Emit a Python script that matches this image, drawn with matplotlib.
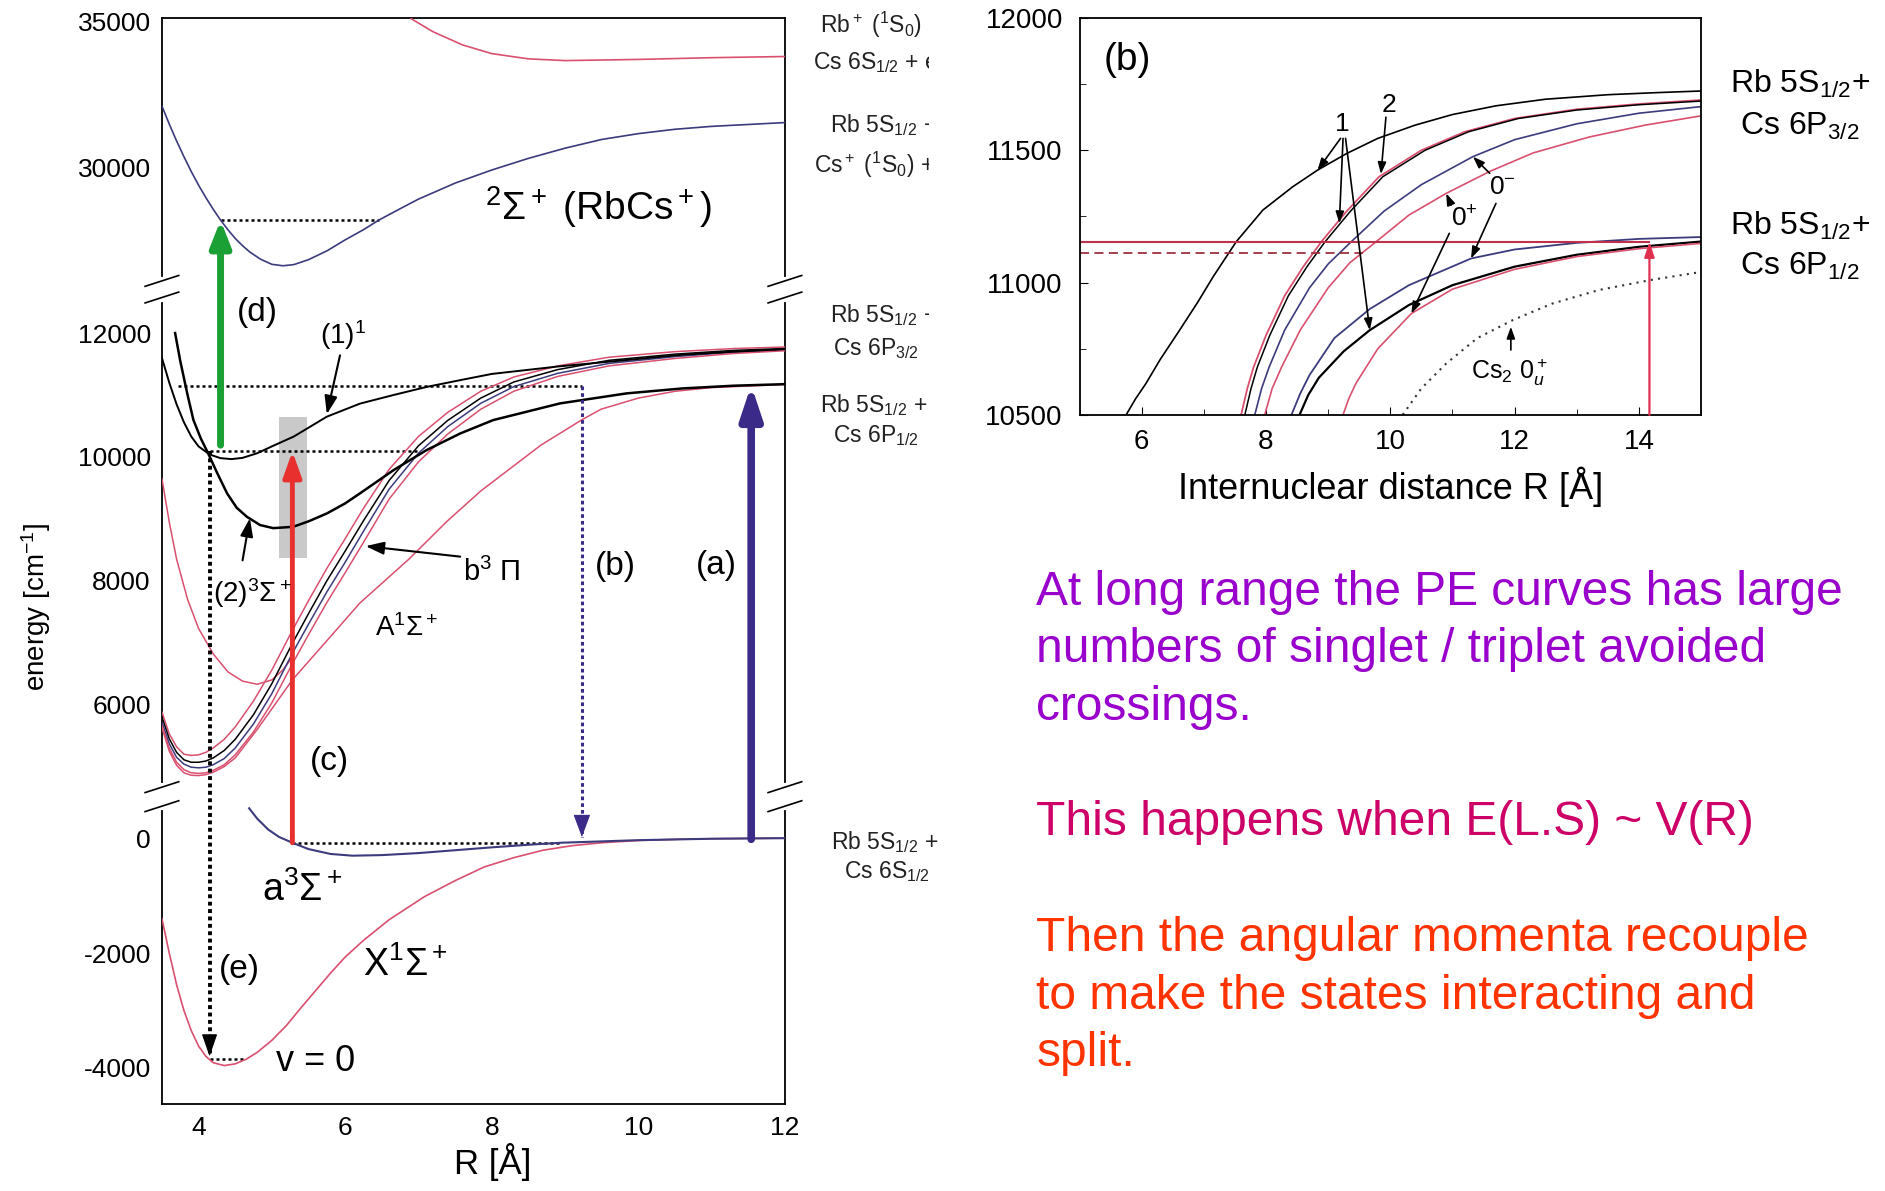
import numpy as np
import matplotlib
matplotlib.use('Agg')
import matplotlib.pyplot as plt
from matplotlib.patches import Rectangle, ConnectionPatch

plt.rcParams['font.family'] = ['Liberation Sans', 'DejaVu Sans']
plt.rcParams['mathtext.fontset'] = 'custom'
plt.rcParams['mathtext.rm'] = 'Liberation Sans'
plt.rcParams['mathtext.it'] = 'Liberation Sans:italic'
plt.rcParams['mathtext.bf'] = 'Liberation Sans:bold'

PINK = '#d9506f'
NAVY = '#3b3b7d'
TEAL = '#009a9a'

# ---------------- main panel: RbCs potential curves ----------------
# ion threshold Rb+ + Cs 6S + e
ion_R = [6.9, 7.2, 7.6, 8.0, 8.5, 9.0, 10.0, 11.0, 12.0]
ion_E = [35100, 34650, 34200, 33900, 33720, 33660, 33700, 33760, 33800]

# 2Sigma+ (RbCs+)
ionst_R = [3.5, 3.6, 3.7, 3.8, 3.9, 4.0, 4.1, 4.2, 4.3, 4.4, 4.5, 4.6, 4.7, 4.85, 5.0,
           5.15, 5.3, 5.5, 5.75, 6.0, 6.25, 6.46, 6.75, 7.0, 7.5, 8.0, 8.5, 9.0, 9.5,
           10.0, 10.5, 11.0, 12.0]
ionst_E = [32100, 31480, 30900, 30360, 29850, 29380, 28950, 28550, 28180, 27850, 27550,
           27300, 27080, 26830, 26660, 26610, 26650, 26820, 27120, 27500, 27850, 28180,
           28570, 28900, 29450, 29900, 30300, 30650, 30950, 31150, 31300, 31400, 31530]

# (1)^1 state
s11_R = [3.5, 3.6, 3.7, 3.8, 3.9, 4.0, 4.15, 4.3, 4.45, 4.6, 4.8, 5.0, 5.3, 5.75,
         6.2, 6.66, 7.11, 7.57, 8.0, 8.9, 9.8, 10.6, 11.3, 12.0]
s11_E = [11600, 11200, 10850, 10560, 10330, 10170, 10040, 9980, 9965, 9985, 10060,
         10170, 10330, 10650, 10860, 11000, 11130, 11240, 11340, 11460, 11560, 11650,
         11700, 11740]

# (2)^3Sigma+ state
s23_R = [3.68, 3.75, 3.85, 3.93, 4.03, 4.13, 4.25, 4.39, 4.52, 4.66, 4.84, 5.02, 5.29,
         5.5, 5.75, 6.0, 6.2, 6.66, 7.11, 7.57, 8.02, 8.93, 9.84, 10.6, 11.3, 12.0]
s23_E = [12000, 11550, 11000, 10595, 10300, 10060, 9750, 9410, 9180, 9033, 8900, 8850,
         8872, 8960, 9087, 9250, 9410, 9787, 10110, 10379, 10595, 10864, 11026, 11106,
         11150, 11175]

# b^3Pi / A^1Sigma+ bundle
bun_R = [3.5, 3.6, 3.7, 3.8, 3.9, 4.0, 4.1, 4.2, 4.35, 4.5, 4.75, 5.0, 5.28, 5.5, 5.75,
         6.0, 6.25, 6.6, 7.0, 7.4, 7.85, 8.3, 8.9, 9.6, 10.5, 11.3, 12.0]
bun1_E = [5880, 5530, 5320, 5200, 5180, 5190, 5230, 5300, 5440, 5640, 6060, 6560, 7200,
          7680, 8200, 8680, 9170, 9800, 10330, 10720, 11060, 11290, 11470, 11610, 11700,
          11750, 11775]
bun2_E = [5800, 5450, 5230, 5110, 5070, 5070, 5090, 5140, 5260, 5440, 5840, 6340, 6990,
          7470, 8000, 8480, 8970, 9620, 10180, 10590, 10950, 11210, 11410, 11560, 11660,
          11720, 11750]
bun3_E = [5720, 5370, 5150, 5040, 4990, 4980, 4990, 5030, 5130, 5300, 5690, 6180, 6830,
          7300, 7820, 8300, 8800, 9480, 10060, 10490, 10866, 11135, 11350, 11510, 11620,
          11690, 11730]
bun4_E = [5660, 5300, 5070, 4950, 4900, 4890, 4900, 4940, 5030, 5190, 5560, 6030, 6660,
          7130, 7650, 8130, 8620, 9320, 9920, 10370, 10770, 11060, 11300, 11470, 11590,
          11670, 11715]

# lowest pink curve towards Cs 6P1/2
low_R = [3.5, 3.6, 3.7, 3.8, 3.9, 4.0, 4.1, 4.2, 4.35, 4.5, 4.8, 5.28, 5.8, 6.2, 6.87,
         7.38, 7.85, 8.67, 9.23, 9.49, 10.0, 10.5, 11.0, 12.0]
low_E = [5630, 5250, 5020, 4900, 4860, 4855, 4870, 4910, 5000, 5140, 5600, 6400, 7100,
         7640, 8350, 8950, 9450, 10190, 10600, 10770, 10950, 11060, 11120, 11170]

# pink curve with the shallow well at 4.8 A
mid_R = [3.5, 3.6, 3.7, 3.85, 4.0, 4.2, 4.4, 4.6, 4.8, 5.0, 5.15, 5.3]
mid_E = [9650, 8950, 8350, 7700, 7230, 6820, 6530, 6380, 6330, 6400, 6560, 6800]

# a^3Sigma+ and X^1Sigma+
a3_R = [4.69, 4.8, 4.95, 5.1, 5.28, 5.5, 5.8, 6.1, 6.5, 7.0, 7.5, 8.0, 8.5, 8.94,
        10.0, 11.0, 12.0]
a3_E = [520, 340, 150, 20, -80, -190, -275, -305, -295, -260, -210, -160, -115, -80,
        -35, -10, 0]
x1_R = [3.5, 3.6, 3.7, 3.8, 3.9, 4.0, 4.1, 4.2, 4.35, 4.5, 4.65, 4.8, 5.0, 5.2, 5.4,
        5.6, 5.8, 6.0, 6.25, 6.6, 7.08, 7.5, 7.9, 8.3, 8.7, 9.1, 9.5, 10.0, 10.5, 11.0,
        12.0]
x1_E = [-1400, -2000, -2550, -3000, -3350, -3620, -3800, -3910, -3960, -3930, -3850,
        -3730, -3520, -3260, -2950, -2650, -2350, -2070, -1780, -1420, -1020, -740,
        -500, -340, -210, -130, -80, -40, -20, -10, 0]

# dotted level lines: (energy, R start, R end)
levels = [(28180, 4.3, 6.46), (11145, 3.72, 9.23), (10090, 4.15, 7.0),
          (-80, 5.28, 8.94), (-3840, 4.15, 4.64)]

# transitions: (R, E start, E end)
trans_a = (11.54, -20, 11160)
trans_b = (9.23, 11145, 20)
trans_c = (5.28, -80, 10090)
trans_d = (4.3, 10190, 28180)
trans_e = (4.15, 10090, -3800)

yticks_main = [-4000, -2000, 0, 6000, 8000, 10000, 12000, 30000, 35000]
xticks_main = [4, 6, 8, 10, 12]

# ---------------- inset (b): long-range region ----------------
in_blk_R = [5.75, 5.9, 6.07, 6.3, 6.61, 6.9, 7.15, 7.52, 7.95, 8.43, 8.83, 9.3, 9.8,
            10.4, 11.0, 11.7, 12.5, 13.5, 14.3, 15.0]
in_blk_E = [10500, 10560, 10619, 10710, 10820, 10925, 11022, 11154, 11274, 11362, 11425,
            11488, 11545, 11595, 11635, 11668, 11693, 11710, 11718, 11724]
in_u1_R = [7.6, 7.7, 7.8, 8.0, 8.3, 8.6, 8.89, 9.3, 9.82, 10.5, 11.2, 12.0, 13.0, 14.0, 15.0]
in_u1_E = [10500, 10600, 10680, 10800, 10950, 11060, 11154, 11270, 11400, 11500, 11570,
           11620, 11655, 11675, 11690]
in_u2_R = [7.66, 7.76, 7.86, 8.06, 8.36, 8.66, 8.95, 9.36, 9.88, 10.56, 11.26, 12.06,
           13.0, 14.0, 15.0]
in_u2_E = [10500, 10600, 10680, 10800, 10950, 11060, 11154, 11270, 11400, 11500, 11570,
           11620, 11652, 11672, 11686]
in_u3_R = [7.82, 7.93, 8.05, 8.3, 8.7, 9.0, 9.37, 9.9, 10.5, 11.33, 12.0, 13.0, 14.0, 15.0]
in_u3_E = [10500, 10600, 10680, 10820, 10980, 11070, 11154, 11270, 11370, 11476, 11540,
           11600, 11640, 11665]
in_u4_R = [7.98, 8.1, 8.25, 8.55, 9.0, 9.35, 9.77, 10.3, 10.9, 11.6, 12.3, 13.2, 14.1, 15.0]
in_u4_E = [10500, 10600, 10680, 10820, 10980, 11075, 11154, 11255, 11337, 11420, 11490,
           11550, 11595, 11630]
in_l1_R = [8.41, 8.55, 8.7, 9.1, 9.67, 10.3, 11.3, 12.0, 13.0, 14.0, 15.0]
in_l1_E = [10500, 10580, 10650, 10790, 10900, 10990, 11091, 11125, 11150, 11165, 11172]
in_l2_R = [8.54, 8.68, 8.85, 9.25, 9.67, 10.3, 11.0, 12.0, 13.0, 14.0, 15.0]
in_l2_E = [10500, 10575, 10640, 10740, 10820, 10915, 10990, 11060, 11105, 11135, 11155]
in_l4_R = [9.24, 9.33, 9.45, 9.8, 10.34, 11.0, 12.0, 13.0, 14.0, 15.0]
in_l4_E = [10500, 10560, 10620, 10750, 10883, 10975, 11050, 11098, 11128, 11148]
in_cs2_R = [10.2, 10.5, 10.9, 11.4, 11.97, 12.6, 13.36, 14.2, 15.0]
in_cs2_E = [10500, 10600, 10694, 10790, 10858, 10920, 10972, 11010, 11040]

in_laser_E = 11154      # solid line and arrow
in_laser_R = 14.17
in_detune_E = 11110     # dashed line
in_detune_R = 9.56

# ---------------- broken energy axis ----------------
E_KNOTS = [-4628, 0, 586, 4621, 6000, 12000, 12621, 26116, 30000, 35124]
U_KNOTS = [-918, -697, -669, -657, -586, -277, -245, -233, -139, -15]
E_EXT = [-1e5] + E_KNOTS + [1e5]
U_EXT = [U_KNOTS[0] - (1e5 + E_KNOTS[0]) * 0.04775] + U_KNOTS + \
        [U_KNOTS[-1] + (1e5 - E_KNOTS[-1]) * 0.0242]


def fwd(e):
    return np.interp(e, E_EXT, U_EXT)


def inv(u):
    return np.interp(u, U_EXT, E_EXT)


def arrow(a, tail, tip, color, lw, hw, hl, scale=10, ls='-', z=4):
    """Draw a straight arrow; dotted shafts get a solid head."""
    if ls == '-':
        a.annotate('', xy=tip, xytext=tail,
                   arrowprops=dict(arrowstyle=f'-|>,head_width={hw},head_length={hl}',
                                   color=color, lw=lw, shrinkA=0, shrinkB=0,
                                   mutation_scale=scale), zorder=z)
    else:
        a.plot([tail[0], tip[0]], [tail[1], tip[1]], color=color, lw=lw, ls=ls, zorder=z)
        d = -1 if tip[1] < tail[1] else 1
        a.annotate('', xy=tip, xytext=(0, -d * hl * scale * 1.05), textcoords='offset points',
                   arrowprops=dict(arrowstyle=f'-|>,head_width={hw},head_length={hl}',
                                   color=color, lw=0.8, shrinkA=0, shrinkB=0,
                                   mutation_scale=scale), zorder=z)


fig = plt.figure(figsize=(18.85, 11.91), dpi=100)
fig.patch.set_facecolor('white')

ax = fig.add_axes([0.0859, 0.0731, 0.3305, 0.9118])
ax.set_yscale('function', functions=(fwd, inv))
ax.set_xlim(3.5, 12)
ax.set_ylim(-4628, 35124)

ax.add_patch(Rectangle((5.1, 8366), 0.38, 10643 - 8366, facecolor='#c9c9c9',
                       edgecolor='none', zorder=1))

ax.plot(ion_R, ion_E, color=PINK, lw=1.2, zorder=3)
ax.plot(ionst_R, ionst_E, color=NAVY, lw=1.2, zorder=3)
ax.plot(mid_R, mid_E, color=PINK, lw=1.1, zorder=3)
ax.plot(low_R, low_E, color=PINK, lw=1.1, zorder=3)
ax.plot(bun_R, bun1_E, color=PINK, lw=1.1, zorder=3)
ax.plot(bun_R, bun2_E, color='black', lw=1.1, zorder=3)
ax.plot(bun_R, bun3_E, color=NAVY, lw=1.1, zorder=3)
ax.plot(bun_R, bun4_E, color=PINK, lw=1.1, zorder=3)
ax.plot(s11_R, s11_E, color='black', lw=1.4, zorder=3)
ax.plot(s23_R, s23_E, color='black', lw=1.8, zorder=3)
ax.plot(x1_R, x1_E, color=PINK, lw=1.2, zorder=3)
ax.plot(a3_R, a3_E, color=NAVY, lw=1.5, zorder=3)

for e, r0, r1 in levels:
    ax.plot([r0, r1], [e, e], color='black', lw=1.8, ls=(0, (1.2, 1.2)), zorder=2)

arrow(ax, (trans_a[0], trans_a[1]), (trans_a[0], trans_a[2]), '#3c2a88', 5.5, 0.5, 1.5, scale=13)
arrow(ax, (trans_b[0], trans_b[1]), (trans_b[0], trans_b[2]), '#3c2a88', 2.2, 0.45, 1.2,
      scale=12, ls=(0, (1.2, 1.0)))
arrow(ax, (trans_c[0], trans_c[1]), (trans_c[0], trans_c[2]), '#e8302e', 3.5, 0.5, 1.4, scale=11)
arrow(ax, (trans_d[0], trans_d[1]), (trans_d[0], trans_d[2]), '#1aa035', 5.0, 0.55, 1.4, scale=11)
arrow(ax, (trans_e[0], trans_e[1]), (trans_e[0], trans_e[2]), 'black', 2.8, 0.45, 1.3,
      scale=11, ls=(0, (1.0, 0.9)))

# state labels and pointers
lab = dict(ha='center', va='center', zorder=6)
ax.text(4.80, 12330, '(d)', fontsize=24, **lab)
ax.text(5.97, 11960, '(1)$^1$', fontsize=20, **lab)
ax.text(4.74, 7800, '(2)$^3$Σ$^+$', fontsize=20, **lab)
ax.text(8.0, 8136, 'b$^3$ Π', fontsize=21, **lab)
ax.text(6.84, 7243, 'A$^1$Σ$^+$', fontsize=20, **lab)
ax.text(5.79, 5087, '(c)', fontsize=24, **lab)
ax.text(9.69, 8233, '(b)', fontsize=24, **lab)
ax.text(11.07, 8252, '(a)', fontsize=24, **lab)
ax.text(5.41, -900, 'a$^3$Σ$^+$', fontsize=27, **lab)
ax.text(4.56, -2283, '(e)', fontsize=24, **lab)
ax.text(6.82, -2220, 'X$^1$Σ$^+$', fontsize=27, **lab)
ax.text(5.59, -3895, 'v = 0', fontsize=26, **lab)
ax.text(9.46, 28636, '$^2$Σ$^+$ (RbCs$^+$)', fontsize=28, **lab)

arrow(ax, (5.93, 11640), (5.75, 10690), 'black', 1.5, 0.35, 1.0, scale=11)
arrow(ax, (4.60, 8330), (4.70, 9010), 'black', 1.5, 0.35, 1.0, scale=11)
arrow(ax, (7.57, 8390), (6.28, 8560), 'black', 1.5, 0.35, 1.0, scale=11)

ax.set_xticks(xticks_main)
ax.set_yticks(yticks_main)
ax.set_yticklabels([str(v) for v in yticks_main])
ax.tick_params(length=0, labelsize=19, pad=8)
ax.tick_params(axis='x', pad=9)
ax.set_xlabel('R [Å]', fontsize=25)
ax.xaxis.set_label_coords(0.531, -0.036)
ax.set_ylabel('energy [cm$^{-1}$]', fontsize=20)
ax.yaxis.set_label_coords(-0.175, 0.458)
for sp in ax.spines.values():
    sp.set_linewidth(1.3)

# axis-break marks on both spines
for lo, hi in [(0.2702, 0.2957), (0.7386, 0.7619)]:
    for x in (0, 1):
        ax.plot([x, x], [lo + 0.002, hi - 0.002], transform=ax.transAxes, color='white',
                lw=3, clip_on=False, zorder=7)
        for yc in (lo + 0.004, hi - 0.004):
            ax.plot([x - 0.027, x + 0.027], [yc - 0.005, yc + 0.005], transform=ax.transAxes,
                    color='black', lw=1.2, clip_on=False, zorder=8)

# asymptote labels
right_labels = [
    ('Rb$^+$ ($^1$S$_0$) +', 0.4350, 0.9788),
    ('Cs 6S$_{1/2}$ + e', 0.4311, 0.9475),
    ('Rb 5S$_{1/2}$ +', 0.4401, 0.8950),
    ('Cs$^+$ ($^1$S$_0$) +', 0.4318, 0.8617),
    ('Rb 5S$_{1/2}$ +', 0.4401, 0.7355),
    ('Cs 6P$_{3/2}$', 0.4420, 0.7073),
    ('Rb 5S$_{1/2}$ +', 0.4350, 0.6598),
    ('Cs 6P$_{1/2}$', 0.4420, 0.6346),
    ('Rb 5S$_{1/2}$ +', 0.4408, 0.2934),
    ('Cs 6S$_{1/2}$', 0.4477, 0.2682),
]
for txt, x, y in right_labels:
    fig.text(x, y, txt, fontsize=16.5, ha='left', va='center', color='#222222')
fig.add_artist(Rectangle((0.4928, 0.69), 0.027, 0.31, transform=fig.transFigure,
                         facecolor='white', edgecolor='none', zorder=4))

# ---------------- inset ----------------
axin = fig.add_axes([0.5727, 0.6517, 0.3297, 0.3332])
axin.set_xlim(5, 15)
axin.set_ylim(10500, 12000)
axin.plot(in_blk_R, in_blk_E, color='black', lw=1.2)
axin.plot(in_u1_R, in_u1_E, color=PINK, lw=1.3)
axin.plot(in_u2_R, in_u2_E, color='black', lw=1.1)
axin.plot(in_u3_R, in_u3_E, color=NAVY, lw=1.2)
axin.plot(in_u4_R, in_u4_E, color=PINK, lw=1.2)
axin.plot(in_l1_R, in_l1_E, color=NAVY, lw=1.3)
axin.plot(in_l2_R, in_l2_E, color='black', lw=1.6)
axin.plot(in_l4_R, in_l4_E, color=PINK, lw=1.2)
axin.plot(in_cs2_R, in_cs2_E, color='#333333', lw=1.5, ls=(0, (1, 2.5)))
axin.plot([5, in_laser_R], [in_laser_E, in_laser_E], color='#c0304a', lw=1.5)
axin.plot([5, in_detune_R], [in_detune_E, in_detune_E], color='#a03040', lw=1.3,
          ls=(0, (5, 3)))
arrow(axin, (in_laser_R, 10500), (in_laser_R, in_laser_E), '#e0304f', 1.6, 0.3, 0.9, scale=10)

axin.text(5.77, 11841, '(b)', fontsize=28, ha='center', va='center')
axin.text(9.23, 11600, '1', fontsize=19, ha='center', va='center')
axin.text(9.98, 11670, '2', fontsize=19, ha='center', va='center')
axin.text(11.80, 11362, '0$^{-}$', fontsize=19, ha='center', va='center')
axin.text(11.20, 11240, '0$^{+}$', fontsize=19, ha='center', va='center')
axin.text(11.92, 10660, 'Cs$_2$ 0$_u^+$', fontsize=18, ha='center', va='center')
for tail, tip in [((9.20, 11545), (8.83, 11425)), ((9.24, 11545), (9.18, 11224)),
                  ((9.28, 11545), (9.67, 10820)), ((9.93, 11625), (9.85, 11410)),
                  ((11.60, 11413), (11.33, 11476)), ((11.70, 11299), (11.30, 11091)),
                  ((10.98, 11293), (10.90, 11337)), ((10.95, 11186), (10.34, 10883)),
                  ((11.94, 10745), (11.94, 10833))]:
    arrow(axin, tail, tip, 'black', 1.2, 0.25, 0.7, scale=10)

axin.set_xticks([6, 8, 10, 12, 14])
axin.set_xticks(np.arange(5, 16, 1), minor=True)
axin.set_yticks([10500, 11000, 11500, 12000])
axin.set_yticks([10750, 11250, 11750], minor=True)
axin.tick_params(direction='in', length=6, labelsize=20, pad=10)
axin.tick_params(which='minor', direction='in', length=4)
axin.tick_params(axis='y', pad=12)
axin.set_xlabel('Internuclear distance R [Å]', fontsize=26)
axin.xaxis.set_label_coords(0.5, -0.13)
for sp in axin.spines.values():
    sp.set_linewidth(1.3)

fig.text(0.955, 0.9293, 'Rb 5S$_{1/2}$+', fontsize=23, ha='center', va='center')
fig.text(0.955, 0.8940, 'Cs 6P$_{3/2}$', fontsize=23, ha='center', va='center')
fig.text(0.955, 0.8102, 'Rb 5S$_{1/2}$+', fontsize=23, ha='center', va='center')
fig.text(0.955, 0.7759, 'Cs 6P$_{1/2}$', fontsize=23, ha='center', va='center')

# zoom guides between the panels
for xa, ea, xb, eb in [(12.0, 11922, 4.49, 12005), (11.48, 10602, 5.0, 10496)]:
    con = ConnectionPatch(xyA=(xa, ea), coordsA='data', axesA=ax,
                          xyB=(xb, eb), coordsB='data', axesB=axin,
                          color=TEAL, lw=1.8, zorder=6)
    fig.add_artist(con)

# notes
notes = [
    ('At long range the PE curves has large', '#9900cc', 0.4923),
    ('numbers of singlet / triplet avoided', '#9900cc', 0.4438),
    ('crossings.', '#9900cc', 0.3954),
    ('This happens when E(L.S) ~ V(R)', '#cc0066', 0.2985),
    ('Then the angular momenta recouple', '#ff3300', 0.2016),
    ('to make the states interacting and', '#ff3300', 0.1531),
    ('split.', '#ff3300', 0.1046),
]
for txt, col, y in notes:
    fig.text(0.5498, y, txt, fontsize=34.5, color=col, ha='left', va='baseline')

fig.savefig('out.png', dpi=100)
